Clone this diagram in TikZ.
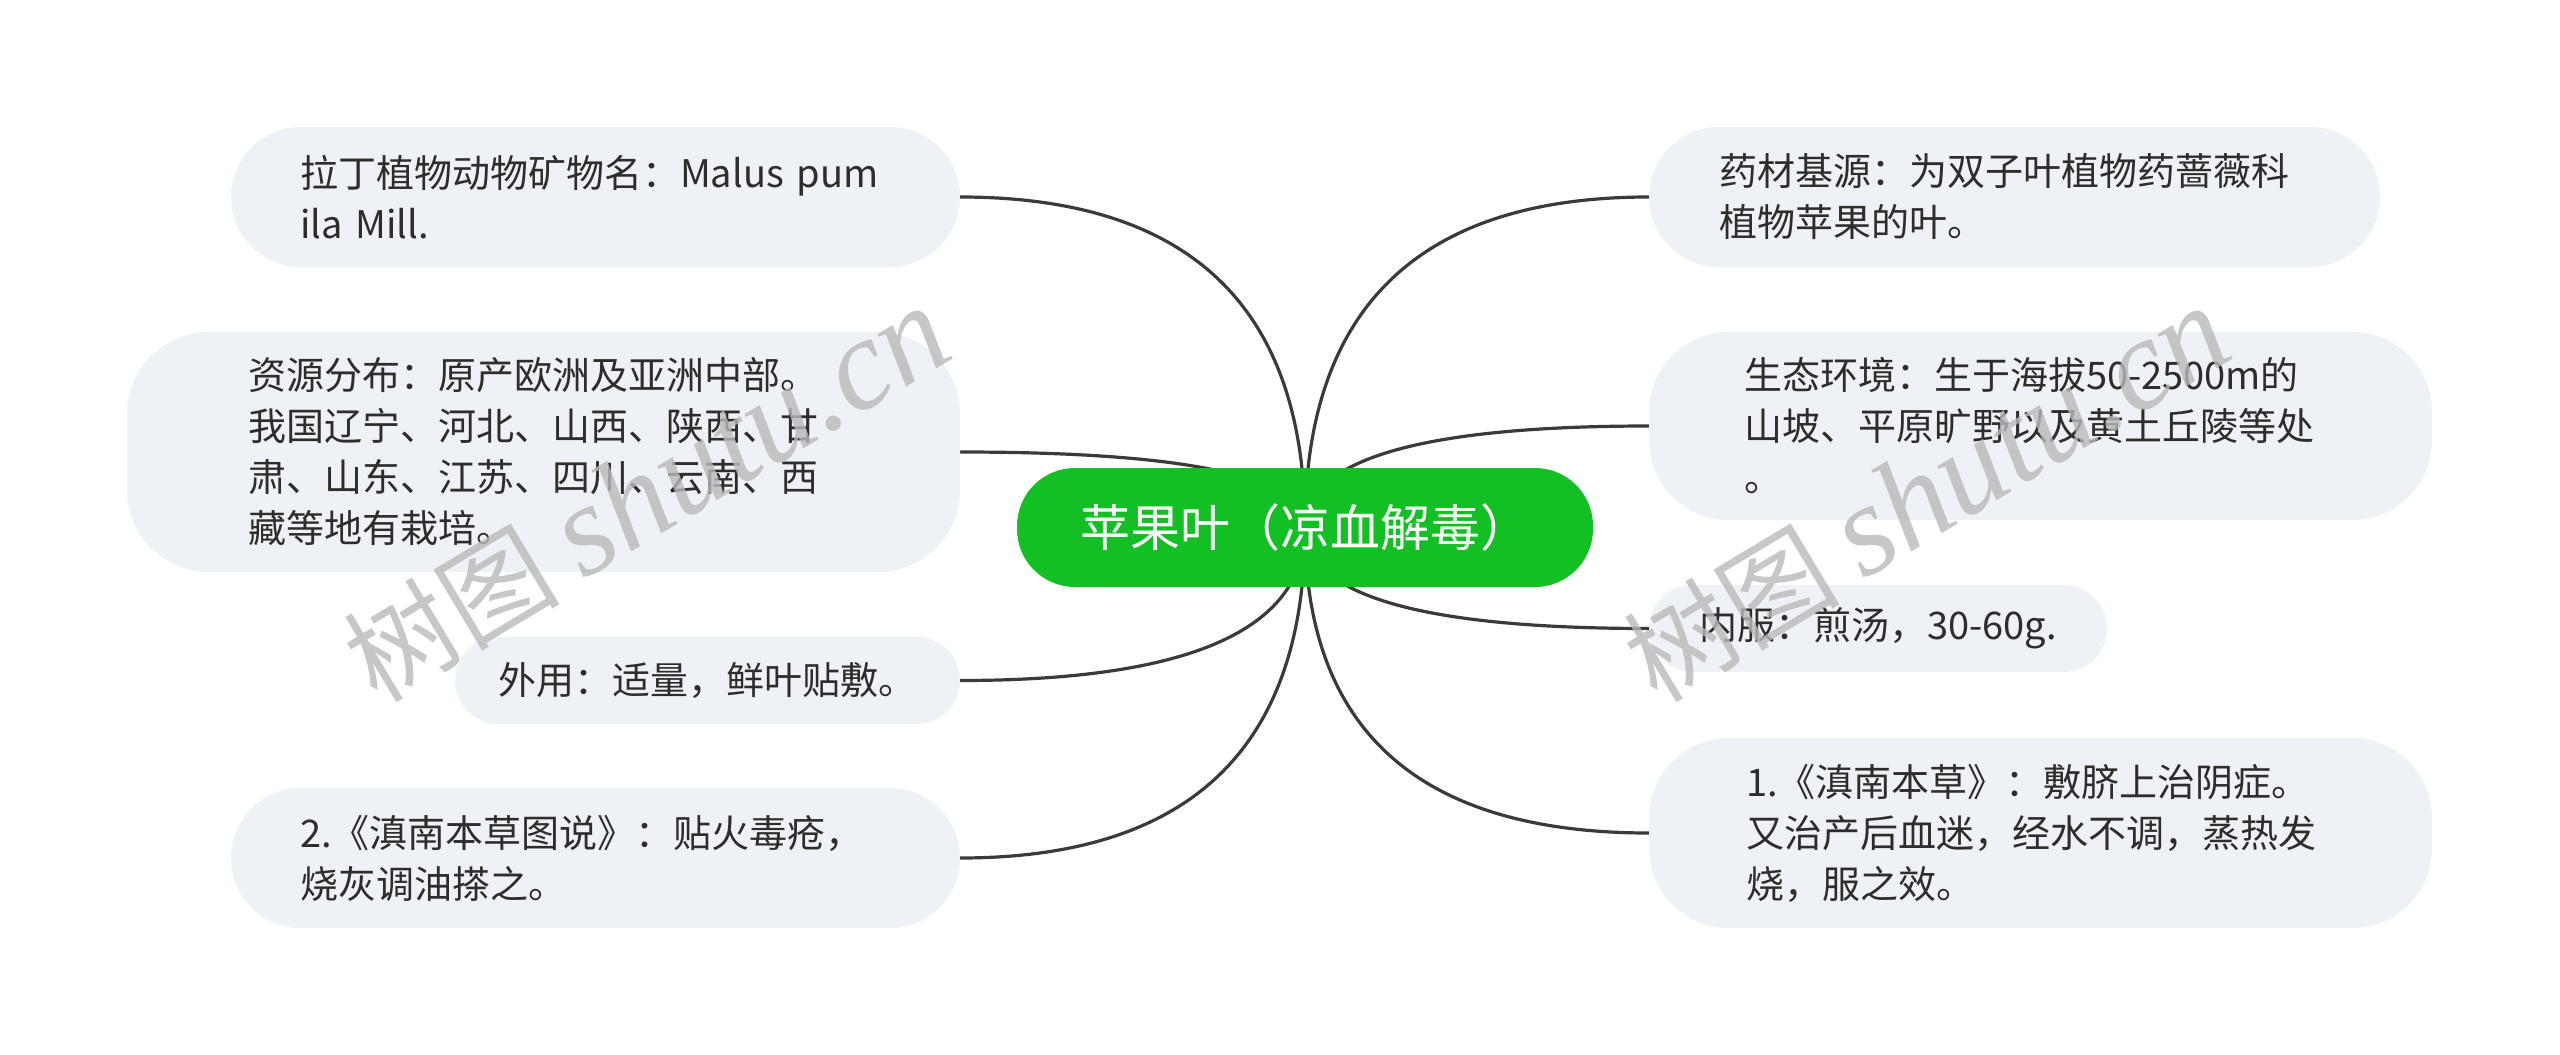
\documentclass[tikz,border=0pt]{standalone}
\usepackage{fontspec}
\setmainfont{Noto Sans CJK SC}
\newfontfamily\wmlatin{Liberation Serif}
\usetikzlibrary{calc,backgrounds}
\definecolor{leafbg}{RGB}{238,241,245}
\definecolor{rootgreen}{RGB}{19,192,35}
\definecolor{linecol}{RGB}{58,58,58}
\definecolor{txt}{RGB}{45,45,45}
\definecolor{wmgray}{RGB}{185,185,185}
\newcommand\mmlinkL[2]{\draw[conn] (#1.center) .. controls ($(#1.center)!0.6667!(#1.center |- #2.east)$) and ($(#2.east)!0.6667!(#1.center |- #2.east)$) .. (#2.east);}
\newcommand\mmlinkR[2]{\draw[conn] (#1.center) .. controls ($(#1.center)!0.6667!(#1.center |- #2.west)$) and ($(#2.west)!0.6667!(#1.center |- #2.west)$) .. (#2.west);}
\begin{document}
\begin{tikzpicture}[x=1pt,y=-1pt,
 leaf/.style={rectangle, fill=leafbg, draw=none, align=left, text=txt, font=\fontsize{38}{51}\selectfont, inner sep=0pt},
 root/.style={rectangle, fill=rootgreen, rounded corners=58pt, text=white, font=\fontsize{50}{58}\selectfont, inner sep=0pt, minimum width=576pt, minimum height=119pt},
 conn/.style={draw=linecol, line width=3.2pt},
 wm/.style={text=wmgray, opacity=0.8, font=\fontsize{108}{120}\selectfont, inner sep=0pt}]
\useasboundingbox (0,0) rectangle (2560,1055);

\node[root] (c) at (1305,527.5) {苹果叶（凉血解毒）};

\node[leaf, minimum width=729pt, minimum height=140pt, rounded corners=70pt, text width=591pt] (l1) at (595.5,197) {拉丁植物动物矿物名：Malus pum\\ila Mill.};
\node[leaf, minimum width=833pt, minimum height=240pt, rounded corners=82pt, text width=591pt] (l2) at (543.5,452) {资源分布：原产欧洲及亚洲中部。\\我国辽宁、河北、山西、陕西、甘\\肃、山东、江苏、四川、云南、西\\藏等地有栽培。};
\node[leaf, minimum width=505pt, minimum height=87pt, rounded corners=43.5pt] (l3) at (707.5,680.5) {外用：适量，鲜叶贴敷。};
\node[leaf, minimum width=729pt, minimum height=140pt, rounded corners=70pt, text width=591pt] (l4) at (595.5,858) {2.《滇南本草图说》：贴火毒疮，\\烧灰调油搽之。};

\node[leaf, minimum width=731pt, minimum height=140pt, rounded corners=70pt, text width=591pt] (r1) at (2014.5,197) {药材基源：为双子叶植物药蔷薇科\\植物苹果的叶。};
\node[leaf, minimum width=783pt, minimum height=188pt, rounded corners=80pt, text width=593pt] (r2) at (2040.5,426) {生态环境：生于海拔50-2500m的\\山坡、平原旷野以及黄土丘陵等处\\。};
\node[leaf, minimum width=458pt, minimum height=87pt, rounded corners=43.5pt] (r3) at (1878,628.5) {内服：煎汤，30-60g.};
\node[leaf, minimum width=783pt, minimum height=190pt, rounded corners=80pt, text width=589pt] (r4) at (2040.5,833) {1.《滇南本草》：敷脐上治阴症。\\又治产后血迷，经水不调，蒸热发\\烧，服之效。};

\begin{scope}[on background layer]
\fill[white] (0,0) rectangle (2560,1055);
\mmlinkL{c}{l1}
\mmlinkL{c}{l2}
\mmlinkL{c}{l3}
\mmlinkL{c}{l4}
\mmlinkR{c}{r1}
\mmlinkR{c}{r2}
\mmlinkR{c}{r3}
\mmlinkR{c}{r4}
\end{scope}

\node[wm, rotate=31, anchor=base] (w1) at (668,530) {树图 {\wmlatin\itshape\fontsize{130}{140}\selectfont shutu.cn}};
\node[wm, rotate=31, anchor=base] (w2) at (1948,530) {树图 {\wmlatin\itshape\fontsize{130}{140}\selectfont shutu.cn}};
\end{tikzpicture}
\end{document}
